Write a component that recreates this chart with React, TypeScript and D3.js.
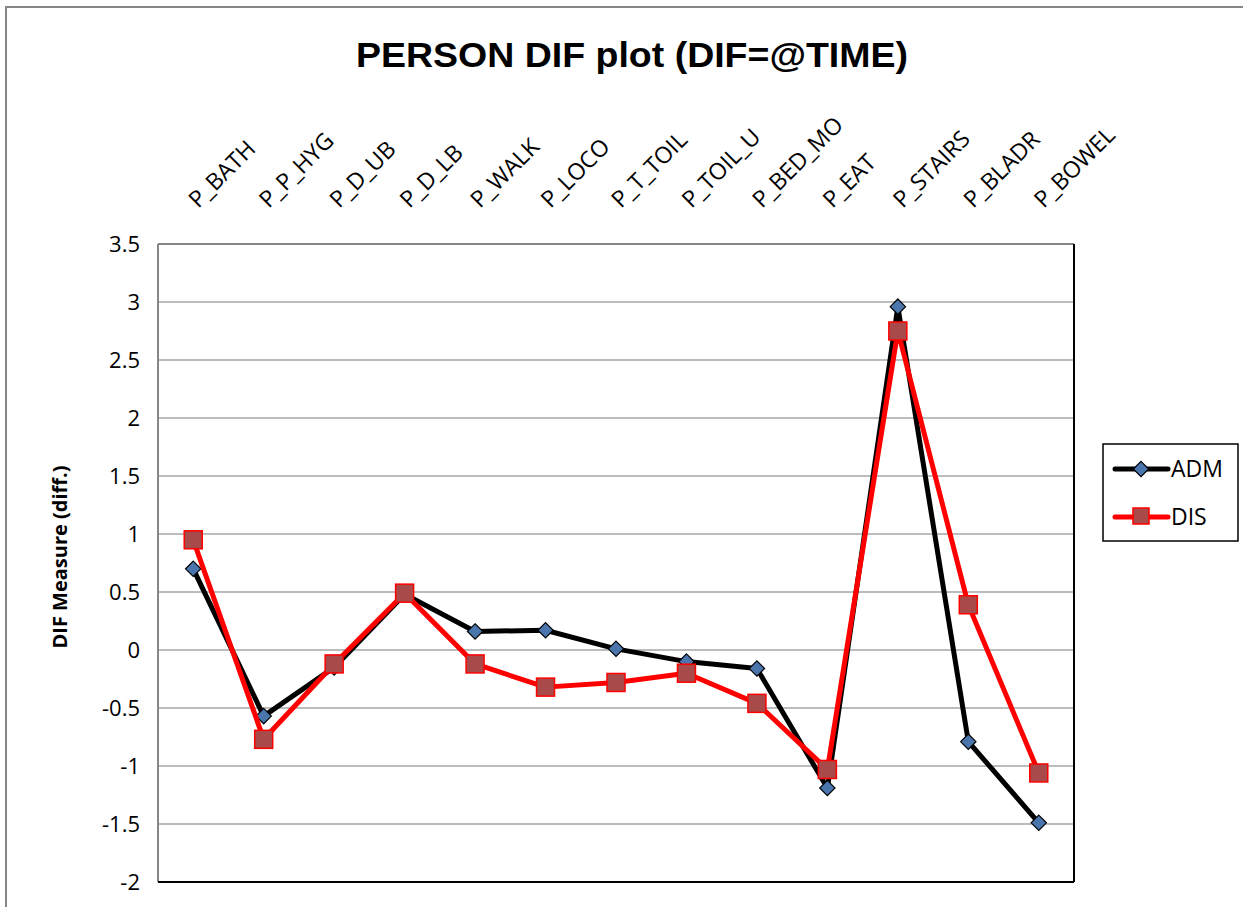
import React, { useEffect, useRef } from 'react';
import * as d3 from 'd3';

const categories = ['P_BATH', 'P_P_HYG', 'P_D_UB', 'P_D_LB', 'P_WALK', 'P_LOCO', 'P_T_TOIL', 'P_TOIL_U', 'P_BED_MO', 'P_EAT', 'P_STAIRS', 'P_BLADR', 'P_BOWEL'];
const admValues = [0.70, -0.57, -0.15, 0.48, 0.16, 0.17, 0.01, -0.10, -0.16, -1.19, 2.96, -0.79, -1.49];
const disValues = [0.95, -0.77, -0.12, 0.49, -0.12, -0.32, -0.28, -0.20, -0.46, -1.03, 2.75, 0.39, -1.06];
const yTicks = [3.5, 3, 2.5, 2, 1.5, 1, 0.5, 0, -0.5, -1, -1.5, -2];

const W = 1243;
const H = 907;
const FONT = '"Open Sans", Lato, sans-serif';

const App: React.FC = () => {
  const ref = useRef<SVGSVGElement>(null);

  useEffect(() => {
    if (!ref.current) return;
    const svg = d3.select(ref.current);
    svg.selectAll('*').remove();

    const left = 158, right = 1074, top = 244, bottom = 882;
    const x = d3.scaleBand().domain(categories).range([left, right]);
    const y = d3.scaleLinear().domain([-2, 3.5]).range([bottom, top]);
    const cx = (c: string) => (x(c) as number) + x.bandwidth() / 2;

    // outer chart border
    svg.append('rect')
      .attr('x', 6).attr('y', 7).attr('width', 1260).attr('height', 920)
      .attr('fill', 'white').attr('stroke', '#868686').attr('stroke-width', 2);

    // title
    svg.append('text')
      .attr('x', 632).attr('y', 67)
      .attr('text-anchor', 'middle')
      .attr('font-family', '"Liberation Sans", Arial, sans-serif')
      .attr('font-weight', 'bold')
      .attr('font-size', '35px')
      .attr('textLength', 552)
      .attr('lengthAdjust', 'spacingAndGlyphs')
      .attr('fill', '#000')
      .text('PERSON DIF plot (DIF=@TIME)');

    // gridlines
    svg.append('g').selectAll('line')
      .data(yTicks)
      .enter().append('line')
      .attr('x1', left).attr('x2', right)
      .attr('y1', d => y(d)).attr('y2', d => y(d))
      .attr('stroke', '#a6a6a6').attr('stroke-width', 1.5);

    // plot frame
    svg.append('line').attr('x1', left).attr('x2', right).attr('y1', top).attr('y2', top)
      .attr('stroke', '#868686').attr('stroke-width', 2);
    svg.append('line').attr('x1', left).attr('x2', left).attr('y1', top).attr('y2', bottom)
      .attr('stroke', '#868686').attr('stroke-width', 2);
    svg.append('line').attr('x1', right).attr('x2', right).attr('y1', top).attr('y2', bottom)
      .attr('stroke', '#000').attr('stroke-width', 2);
    svg.append('line').attr('x1', left).attr('x2', right).attr('y1', bottom).attr('y2', bottom)
      .attr('stroke', '#000').attr('stroke-width', 2);

    // y tick labels
    svg.append('g').selectAll('text')
      .data(yTicks)
      .enter().append('text')
      .attr('x', 140).attr('y', d => y(d))
      .attr('dy', '0.35em')
      .attr('text-anchor', 'end')
      .attr('font-family', FONT)
      .attr('font-size', '22px')
      .attr('fill', '#000')
      .text(d => String(d));

    // y axis title
    svg.append('text')
      .attr('transform', `translate(67,${(top + bottom) / 2 - 6}) rotate(-90)`)
      .attr('text-anchor', 'middle')
      .attr('font-family', FONT)
      .attr('font-weight', 'bold')
      .attr('font-size', '20px')
      .attr('fill', '#000')
      .text('DIF Measure (diff.)');

    // category labels (top, rotated)
    svg.append('g').selectAll('text')
      .data(categories)
      .enter().append('text')
      .attr('transform', d => `translate(${cx(d) + 5},${209}) rotate(-45)`)
      .attr('text-anchor', 'start')
      .attr('font-family', FONT)
      .attr('font-size', '23px')
      .attr('fill', '#000')
      .text(d => d);

    const line = d3.line<number>()
      .x((_, i) => cx(categories[i]))
      .y(d => y(d));

    const diamond = d3.symbol().type(d3.symbolDiamond2).size(150);

    // ADM series
    svg.append('path')
      .attr('d', line(admValues))
      .attr('fill', 'none').attr('stroke', '#000').attr('stroke-width', 5)
      .attr('stroke-linejoin', 'round');
    svg.append('g').selectAll('path')
      .data(admValues)
      .enter().append('path')
      .attr('d', diamond as any)
      .attr('transform', (d, i) => `translate(${cx(categories[i])},${y(d)})`)
      .attr('fill', '#4a76ad').attr('stroke', '#000').attr('stroke-width', 1.2);

    // DIS series
    svg.append('path')
      .attr('d', line(disValues))
      .attr('fill', 'none').attr('stroke', '#ff0000').attr('stroke-width', 5)
      .attr('stroke-linejoin', 'round');
    svg.append('g').selectAll('rect')
      .data(disValues)
      .enter().append('rect')
      .attr('x', (d, i) => cx(categories[i]) - 9)
      .attr('y', d => y(d) - 9)
      .attr('width', 18).attr('height', 18)
      .attr('fill', '#a84a4a').attr('stroke', '#ff0000').attr('stroke-width', 1.5);

    // legend
    const lg = svg.append('g');
    lg.append('rect')
      .attr('x', 1103).attr('y', 444).attr('width', 135).attr('height', 97)
      .attr('fill', 'white').attr('stroke', '#000').attr('stroke-width', 1.5);
    lg.append('line').attr('x1', 1115).attr('x2', 1168).attr('y1', 469).attr('y2', 469)
      .attr('stroke', '#000').attr('stroke-width', 5).attr('stroke-linecap', 'round');
    lg.append('path').attr('d', diamond as any)
      .attr('transform', 'translate(1141,469)')
      .attr('fill', '#4a76ad').attr('stroke', '#000').attr('stroke-width', 1.2);
    lg.append('text').attr('x', 1171).attr('y', 469).attr('dy', '0.35em')
      .attr('font-family', FONT).attr('font-size', '23px')
      .text('ADM');
    lg.append('line').attr('x1', 1115).attr('x2', 1168).attr('y1', 517).attr('y2', 517)
      .attr('stroke', '#ff0000').attr('stroke-width', 5).attr('stroke-linecap', 'round');
    lg.append('rect').attr('x', 1133).attr('y', 508).attr('width', 16).attr('height', 16)
      .attr('fill', '#a84a4a').attr('stroke', '#ff0000').attr('stroke-width', 1.5);
    lg.append('text').attr('x', 1171).attr('y', 517).attr('dy', '0.35em')
      .attr('font-family', FONT).attr('font-size', '23px')
      .text('DIS');
  }, []);

  return (
    <>
      <style>{'body{margin:0;}'}</style>
      <svg ref={ref} width={W} height={H} style={{ display: 'block' }} />
    </>
  );
};

export default App;
